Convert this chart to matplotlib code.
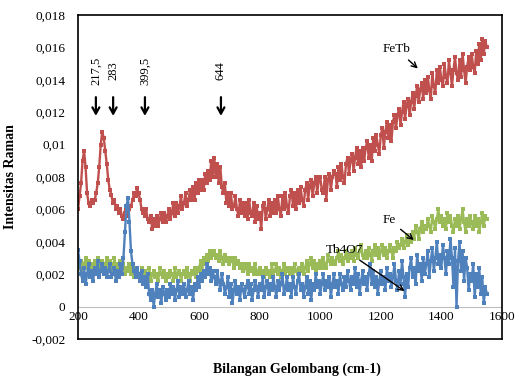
import numpy as np
import matplotlib.pyplot as plt

plt.rcParams['font.family'] = ['Liberation Serif', 'DejaVu Serif']

# wavenumber grid, 200..1550 cm-1 every 5
wavenumber = np.arange(200, 1551, 5)

# intensities, in units of 1e-5
fetb = [
    600, 680, 760, 900, 960, 860, 700, 640, 620, 660,
    640, 660, 700, 760, 860, 1000, 1080, 1040, 960, 880,
    780, 720, 690, 640, 660, 600, 620, 580, 600, 560,
    540, 580, 600, 560, 600, 620, 660, 700, 680, 730,
    700, 660, 600, 580, 560, 600, 540, 520, 560, 480,
    540, 500, 560, 500, 540, 580, 520, 580, 520, 560,
    600, 540, 580, 640, 560, 640, 580, 620, 680, 600,
    640, 700, 620, 660, 720, 660, 740, 660, 760, 700,
    780, 720, 780, 720, 820, 760, 840, 780, 900, 800,
    920, 800, 880, 760, 860, 740, 700, 760, 640, 700,
    620, 700, 600, 620, 680, 600, 560, 660, 580, 640,
    560, 640, 540, 660, 580, 560, 640, 520, 620, 540,
    580, 480, 620, 640, 540, 600, 660, 560, 640, 580,
    660, 580, 680, 600, 560, 680, 600, 700, 620, 580,
    680, 720, 620, 700, 600, 720, 640, 740, 660, 620,
    720, 760, 660, 740, 780, 680, 760, 800, 700, 780,
    800, 720, 700, 800, 660, 780, 820, 720, 800, 840,
    820, 740, 860, 780, 880, 800, 760, 880, 920, 820,
    900, 940, 840, 920, 980, 880, 960, 860, 980, 900,
    980, 1020, 920, 1000, 900, 1040, 960, 1060, 1000, 940,
    1060, 1100, 980, 1080, 1140, 1040, 1120, 1020, 1140, 1180,
    1100, 1180, 1220, 1120, 1200, 1260, 1160, 1240, 1280, 1180,
    1260, 1320, 1220, 1300, 1360, 1260, 1340, 1380, 1280, 1400,
    1320, 1420, 1340, 1280, 1440, 1360, 1320, 1460, 1380, 1480,
    1400, 1360, 1500, 1420, 1380, 1520, 1440, 1360, 1460, 1540,
    1440, 1400, 1520, 1420, 1560, 1460, 1380, 1480, 1540, 1460,
    1560, 1480, 1440, 1580, 1500, 1620, 1520, 1650, 1560, 1640,
    1600,
]

tb4o7 = [
    350, 280, 200, 160, 240, 140, 200, 260, 180, 220,
    160, 240, 200, 280, 180, 220, 260, 200, 240, 180,
    220, 260, 180, 200, 240, 160, 220, 180, 260, 200,
    300, 460, 620, 670, 520, 340, 260, 220, 180, 240,
    200, 160, 220, 140, 180, 120, 200, 80, 40, 100,
    0, 80, 140, 60, 100, 20, 120, 80, 40, 100,
    60, 140, 80, 120, 40, 100, 160, 60, 120, 80,
    140, 60, 100, 160, 80, 120, 40, 140, 100, 180,
    120, 200, 160, 220, 180, 260, 200, 240, 160, 220,
    180, 140, 220, 160, 100, 200, 140, 80, 120, 180,
    60, 140, 20, 100, 160, 80, 120, 40, 140, 100,
    60, 120, 160, 80, 140, 40, 100, 160, 120, 60,
    140, 100, 180, 60, 120, 160, 80, 140, 100, 180,
    120, 60, 160, 100, 140, 200, 80, 120, 180, 100,
    140, 60, 180, 120, 80, 160, 200, 100, 140, 60,
    120, 180, 80, 160, 40, 140, 100, 200, 120, 160,
    80, 140, 200, 100, 160, 120, 180, 60, 140, 200,
    120, 160, 80, 200, 140, 100, 180, 120, 220, 160,
    100, 180, 140, 240, 120, 200, 80, 160, 220, 140,
    180, 100, 200, 260, 140, 220, 120, 180, 80, 160,
    220, 140, 180, 100, 240, 160, 200, 120, 180, 260,
    160, 100, 220, 140, 280, 180, 60, 200, 120, 240,
    300, 180, 240, 140, 320, 220, 260, 160, 300, 200,
    260, 340, 180, 280, 360, 220, 300, 400, 260, 320,
    240, 380, 300, 200, 340, 260, 420, 300, 120, 360,
    0, 280, 400, 220, 340, 160, 300, 240, 100, 200,
    160, 260, 60, 200, 120, 240, 80, 180, 20, 120,
    80,
]

fe = [
    300, 240, 280, 220, 260, 300, 240, 280, 220, 260,
    240, 280, 220, 300, 260, 240, 280, 220, 260, 300,
    240, 280, 260, 220, 300, 240, 260, 220, 280, 240,
    260, 200, 240, 220, 260, 200, 240, 180, 220, 240,
    200, 180, 240, 160, 220, 200, 180, 240, 160, 200,
    220, 180, 200, 160, 240, 200, 180, 220, 160, 200,
    180, 220, 200, 160, 240, 180, 200, 220, 160, 200,
    220, 180, 240, 200, 160, 220, 200, 240, 180, 220,
    240, 280, 220, 300, 260, 320, 280, 340, 300, 320,
    340, 300, 320, 280, 340, 300, 260, 320, 280, 300,
    260, 300, 280, 240, 300, 260, 280, 240, 260, 220,
    260, 240, 200, 260, 220, 240, 200, 260, 220, 200,
    240, 200, 220, 180, 240, 200, 220, 180, 260, 200,
    220, 260, 200, 240, 180, 220, 260, 200, 240, 220,
    200, 240, 180, 260, 220, 200, 240, 220, 260, 200,
    240, 280, 220, 260, 300, 240, 280, 220, 260, 240,
    280, 240, 300, 260, 240, 320, 280, 260, 300, 280,
    260, 300, 340, 280, 320, 260, 300, 340, 280, 320,
    300, 340, 280, 360, 320, 300, 340, 380, 320, 300,
    340, 300, 360, 320, 280, 340, 380, 320, 360, 300,
    340, 380, 320, 360, 300, 340, 380, 340, 300, 360,
    340, 400, 360, 380, 420, 360, 400, 440, 380, 420,
    400, 460, 420, 500, 460, 420, 480, 520, 460, 500,
    480, 540, 500, 460, 560, 520, 480, 540, 600, 520,
    560, 500, 540, 480, 580, 520, 560, 500, 460, 540,
    500, 560, 480, 540, 600, 520, 460, 540, 500, 560,
    520, 480, 560, 500, 540, 460, 520, 580, 500, 560,
    540,
]

peak_labels = ['217,5', '283', '399,5', '644']
peak_arrow_x = [259, 316, 421, 672]

xticks = [200, 400, 600, 800, 1000, 1200, 1400, 1600]
yticks = [-0.002, 0, 0.002, 0.004, 0.006, 0.008, 0.01, 0.012, 0.014, 0.016, 0.018]
ytick_labels = ['-0,002', '0', '0,002', '0,004', '0,006', '0,008', '0,01',
                '0,012', '0,014', '0,016', '0,018']

fig = plt.figure(figsize=(5.18, 3.8), dpi=100)
ax = fig.add_axes([0.1506, 0.108, 0.8184, 0.8525])

ax.axhline(0, color='#bdbdbd', lw=0.8, zorder=0)

style = dict(lw=1.7, marker='s', ms=2.8, mew=0)
ax.plot(wavenumber, np.array(fetb) * 1e-5, color='#C0504D', **style)
ax.plot(wavenumber, np.array(fe) * 1e-5, color='#9BBB59', **style)
ax.plot(wavenumber, np.array(tb4o7) * 1e-5, color='#4F81BD', **style)

ax.set_xlim(200, 1600)
ax.set_ylim(-0.002, 0.018)
ax.set_yticks(yticks)
ax.set_yticklabels(ytick_labels, fontsize=9.5)
ax.tick_params(axis='y', length=0, pad=9)
ax.set_xticks([])
for spine in ax.spines.values():
    spine.set_linewidth(1.2)

# x tick labels sit under the zero line (Excel style)
for xt in xticks:
    ax.text(xt, -0.00025, str(xt), ha='center', va='top', fontsize=9.5)

ax.set_ylabel('Intensitas Raman', fontweight='bold', fontsize=10, labelpad=10)
fig.text(0.573, 0.027, 'Bilangan Gelombang (cm-1)', ha='center', va='center',
         fontweight='bold', fontsize=10)

# peak markers
for lab, px in zip(peak_labels, peak_arrow_x):
    ax.text(px, 0.01455, lab, rotation=90, ha='center', va='center', fontsize=9)
    ax.annotate('', xy=(px, 0.0116), xytext=(px, 0.0131),
                arrowprops=dict(arrowstyle='->,head_length=0.45,head_width=0.25',
                                lw=1.6, color='black'))

# series labels
arrow = dict(arrowstyle='->', lw=1.0, color='black')
ax.annotate('FeTb', xy=(1329, 0.01458), xytext=(1253, 0.01588),
            ha='center', va='center', fontsize=9.5, arrowprops=arrow)
ax.annotate('Fe', xy=(1316, 0.0040), xytext=(1227, 0.00535),
            ha='center', va='center', fontsize=9.5, arrowprops=arrow)
ax.annotate('Tb4O7', xy=(1286, 0.00086), xytext=(1081, 0.0035),
            ha='center', va='center', fontsize=9.5, arrowprops=arrow)

fig.savefig('out.png', dpi=100)
